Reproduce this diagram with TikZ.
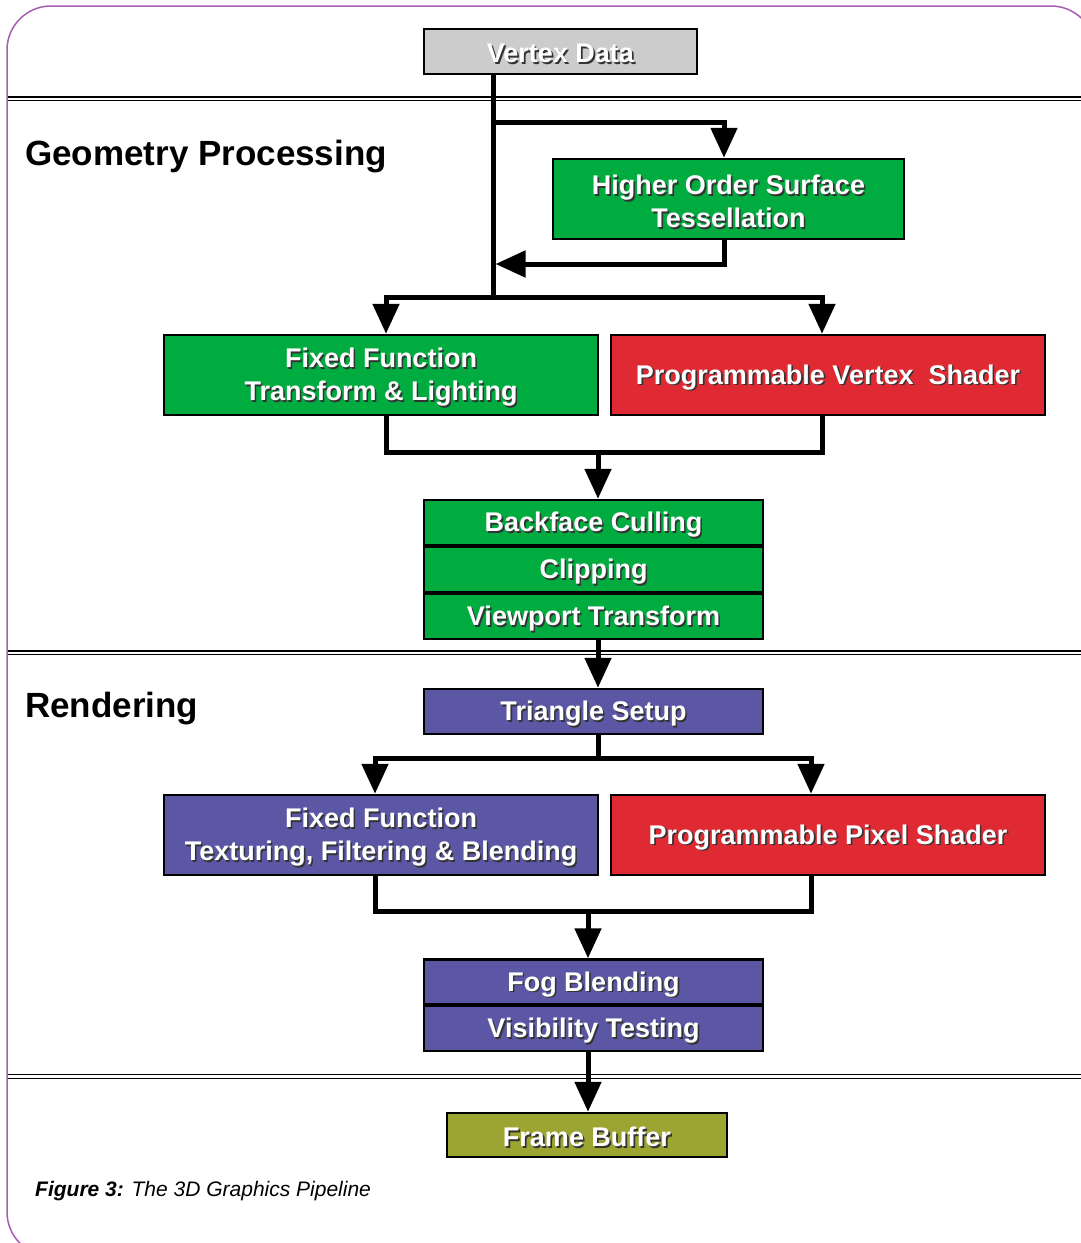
\documentclass[tikz,border=0pt]{standalone}
\usepackage{fontspec}
\setmainfont{Liberation Sans}
\usetikzlibrary{arrows.meta}
\definecolor{gbox}{HTML}{00AC3F}
\definecolor{rbox}{HTML}{E02A33}
\definecolor{pbox}{HTML}{5B57A4}
\definecolor{obox}{HTML}{9CA532}
\definecolor{vbox}{HTML}{CCCCCC}
\definecolor{framec}{HTML}{A65DB3}
\newcommand\shd[1]{\raisebox{-3pt}[\height][\depth]{\rlap{\kern1.7pt\raisebox{-1.7pt}{\textcolor{black!80}{#1}}}\textcolor{white}{#1}}}
\begin{document}
\begin{tikzpicture}[x=1pt,y=-1pt,
  boxst/.style={draw=black, line width=2.5pt, align=center, inner sep=0pt,
    font=\fontsize{27}{33}\selectfont\bfseries},
  wide/.style={boxst, minimum width=434pt, minimum height=80pt},
  mid/.style={boxst, minimum width=339pt, minimum height=45pt},
  ln/.style={line width=5pt, line cap=rect, line join=miter},
  arr/.style={line width=5pt, -{Triangle[width=26pt,length=30pt]}},
  dbl/.style={line width=1.4pt},
  sec/.style={anchor=base west, inner sep=0pt, font=\fontsize{35}{40}\selectfont\bfseries}]
\useasboundingbox (0,0) rectangle (1081,1243);
\clip (0,0) rectangle (1081,1243);
\fill[white] (0,0) rectangle (1081,1243);
\draw[framec, line width=1.5pt, rounded corners=44pt] (7,6) rectangle (1095,1256);
% section separators
\foreach \y in {96.8,100.4, 650.8,654.4, 1074.6,1078.2}
  \draw[dbl] (8,\y) -- (1081,\y);
% section labels
\node[sec] (geo) at (25,165) {Geometry Processing};
\node[sec] (ren) at (25,717) {Rendering};
% boxes
\node[boxst, fill=vbox, minimum width=273pt, minimum height=45pt] (vd) at (560.5,51.5) {\shd{Vertex Data}};
\node[boxst, fill=gbox, minimum width=351pt, minimum height=80pt] (hos) at (728.5,199) {\shd{Higher Order Surface}\\\shd{Tessellation}};
\node[wide, fill=gbox] (fft) at (381,375) {\shd{Fixed Function}\\\shd{Transform \& Lighting}};
\node[wide, fill=rbox] (pvs) at (828,375) {\shd{Programmable Vertex\ \ Shader}};
\node[mid, fill=gbox] (bc) at (593.5,522.5) {\shd{Backface Culling}};
\node[mid, fill=gbox] (cl) at (593.5,569.5) {\shd{Clipping}};
\node[mid, fill=gbox] (vp) at (593.5,616.5) {\shd{Viewport Transform}};
\node[mid, fill=pbox] (ts) at (593.5,711.5) {\shd{Triangle Setup}};
\node[wide, fill=pbox] (ftx) at (381,835) {\shd{Fixed Function}\\\shd{Texturing, Filtering \& Blending}};
\node[wide, fill=rbox] (pps) at (828,835) {\shd{Programmable Pixel Shader}};
\node[mid, fill=pbox] (fog) at (593.5,982) {\shd{Fog Blending}};
\node[mid, fill=pbox] (vis) at (593.5,1028.5) {\shd{Visibility Testing}};
\node[boxst, fill=obox, minimum width=280pt, minimum height=44pt] (fb) at (587,1135) {\shd{Frame Buffer}};
% junction coordinates
\coordinate (sx) at (493,0);
\coordinate (b1) at (493,122);
\coordinate (b1r) at (724,122);
\coordinate (b2r) at (724,264);
\coordinate (b2l) at (495.5,264);
\coordinate (s1) at (493,297);
\coordinate (jl) at (386,297);
\coordinate (jr) at (822,297);
\coordinate (ml) at (386,452);
\coordinate (mr) at (822,452);
\coordinate (mc) at (598,452);
\coordinate (tc) at (598,758);
\coordinate (tl) at (375,758);
\coordinate (tr) at (811,758);
\coordinate (nl) at (375,911);
\coordinate (nr) at (811,911);
\coordinate (nc) at (588,911);
% connectors
\draw[ln] (vd.south -| sx) -- (s1);
\draw[ln] (b1) -- (b1r);
\draw[arr] (b1r) -- (b1r |- hos.north);
\draw[ln] (hos.south -| b2r) -- (b2r);
\draw[arr] (b2r) -- (b2l);
\draw[ln] (jl) -- (jr);
\draw[arr] (jl) -- (jl |- fft.north);
\draw[arr] (jr) -- (jr |- pvs.north);
\draw[ln] (fft.south -| ml) -- (ml) -- (mr) -- (pvs.south -| mr);
\draw[arr] (mc) -- (mc |- bc.north);
\draw[arr] (vp.south -| mc) -- (mc |- ts.north);
\draw[ln] (ts.south -| tc) -- (tc);
\draw[ln] (tl) -- (tr);
\draw[arr] (tl) -- (tl |- ftx.north);
\draw[arr] (tr) -- (tr |- pps.north);
\draw[ln] (ftx.south -| nl) -- (nl) -- (nr) -- (pps.south -| nr);
\draw[arr] (nc) -- (nc |- fog.north);
\draw[arr] (vis.south -| nc) -- (nc |- fb.north);
% caption
\node[anchor=base west, inner sep=0pt, font=\fontsize{21}{25}\selectfont\itshape] (cap) at (35,1196) {\textbf{Figure 3:} The 3D Graphics Pipeline};
\end{tikzpicture}
\end{document}
